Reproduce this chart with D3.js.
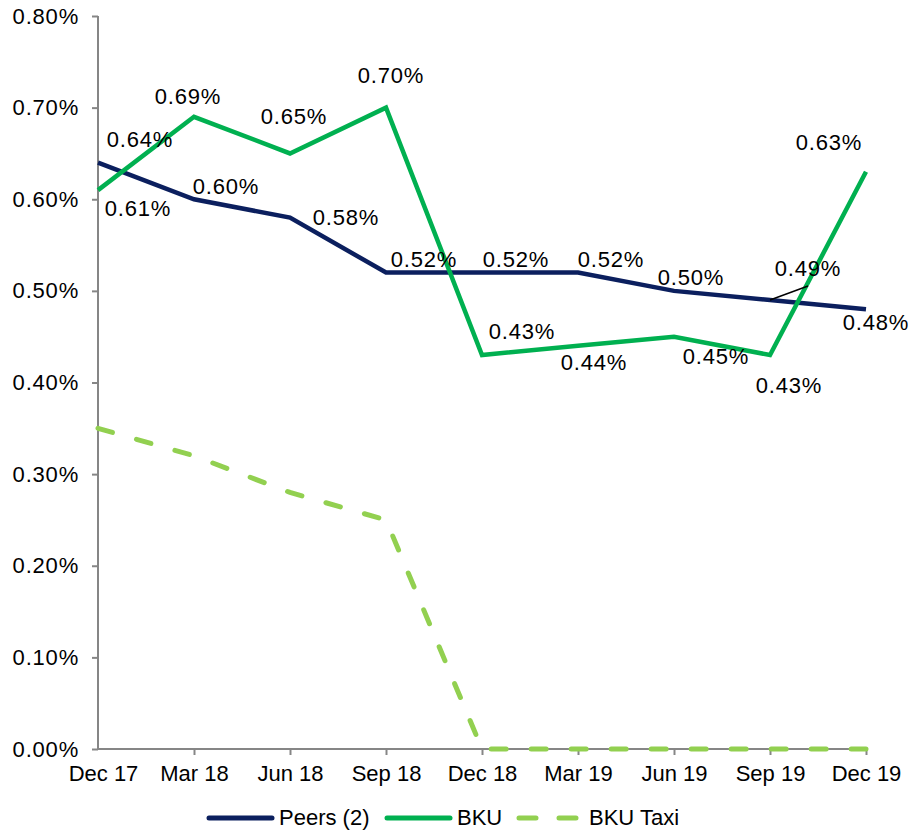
<!DOCTYPE html>
<html>
<head>
<meta charset="utf-8">
<script src="https://cdn.jsdelivr.net/npm/d3@7"></script>
<style>
body { margin: 0; background: #fff; }
svg text { font-family: "Liberation Sans", Arial, sans-serif; fill: #000; }
</style>
</head>
<body>
<div id="vis"></div>
<script>
var categories = ['Dec 17', 'Mar 18', 'Jun 18', 'Sep 18', 'Dec 18', 'Mar 19', 'Jun 19', 'Sep 19', 'Dec 19'];
var peers = [0.64, 0.60, 0.58, 0.52, 0.52, 0.52, 0.50, 0.49, 0.48];
var bku = [0.61, 0.69, 0.65, 0.70, 0.43, 0.44, 0.45, 0.43, 0.63];
var bkuTaxi = [0.35, 0.32, 0.28, 0.25, 0, 0, 0, 0, 0];
var yTicks = [0, 0.1, 0.2, 0.3, 0.4, 0.5, 0.6, 0.7, 0.8];

// label offsets (px) from each point, hand placed like the original
var peersLabelOffset = [[42, -23], [32, -13], [56, 0], [38, -13], [34, -13], [33, -13], [17, -14], [38, -32], [10, 13]];
var bkuLabelOffset = [[40, 18], [-6, -20], [4, -37], [5, -32], [40, -24], [16, 16], [42, 20], [19, 30], [-37, -29]];

var margin = { left: 98, right: 46, top: 16, bottom: 81 };
var width = 912 - margin.left - margin.right;
var height = 830 - margin.top - margin.bottom;

var svg = d3.select('#vis')
    .append('svg')
    .attr('width', 912)
    .attr('height', 830);

var g = svg.append('g')
    .attr('transform', 'translate(' + margin.left + ',' + margin.top + ')');

var xScale = d3.scalePoint().domain(categories).range([0, width]);
var yScale = d3.scaleLinear().domain([0, 0.8]).range([height, 0]);

var fontSize = 22;
var pctSpacing = '0.8px';

// axes
var yAxis = d3.axisLeft(yScale)
    .tickValues(yTicks)
    .tickSize(6)
    .tickPadding(13)
    .tickFormat(function(d) { return d.toFixed(2) + '%'; });

var xAxis = d3.axisBottom(xScale)
    .tickSize(6)
    .tickPadding(10);

var yg = g.append('g').call(yAxis);
var xg = g.append('g').attr('transform', 'translate(0,' + height + ')').call(xAxis);

[yg, xg].forEach(function(a) {
    a.select('.domain').attr('stroke', '#868686').attr('stroke-width', 2);
    a.selectAll('.tick line').attr('stroke', '#868686').attr('stroke-width', 2);
    a.selectAll('.tick text')
        .style('font-family', '"Liberation Sans", Arial, sans-serif')
        .style('font-size', fontSize + 'px')
        .attr('fill', '#000');
});
yg.selectAll('.tick text').style('letter-spacing', pctSpacing);
yg.select('.domain').attr('d', 'M0,' + height + 'V0');
xg.select('.domain').attr('d', 'M0,0H' + width);
var firstTick = xg.selectAll('.tick').filter(function(d, i) { return i === 0; });
firstTick.select('line').remove();
firstTick.select('text').attr('dx', 5);

var line = d3.line()
    .x(function(d, i) { return xScale(categories[i]); })
    .y(function(d) { return yScale(d); });

g.append('path').datum(bkuTaxi)
    .attr('d', line)
    .attr('fill', 'none')
    .attr('stroke', '#92d050')
    .attr('stroke-width', 5)
    .attr('stroke-linecap', 'round')
    .attr('stroke-dasharray', '15,25');

g.append('path').datum(peers)
    .attr('d', line)
    .attr('fill', 'none')
    .attr('stroke', '#0b1f5e')
    .attr('stroke-width', 4.5);

g.append('path').datum(bku)
    .attr('d', line)
    .attr('fill', 'none')
    .attr('stroke', '#00b050')
    .attr('stroke-width', 4.5);

// leader line for 0.49%
g.append('line')
    .attr('x1', xScale(categories[7]))
    .attr('y1', yScale(peers[7]))
    .attr('x2', xScale(categories[7]) + 38)
    .attr('y2', yScale(peers[7]) - 14)
    .attr('stroke', '#000')
    .attr('stroke-width', 1.5);

var addLabels = function(values, offsets) {
    g.append('g').selectAll('text')
        .data(values)
        .enter().append('text')
        .attr('x', function(d, i) { return xScale(categories[i]) + offsets[i][0]; })
        .attr('y', function(d, i) { return yScale(d) + offsets[i][1]; })
        .attr('dy', '0.35em')
        .attr('text-anchor', 'middle')
        .style('font-size', fontSize + 'px')
        .style('letter-spacing', pctSpacing)
        .text(function(d) { return d.toFixed(2) + '%'; });
};

addLabels(peers, peersLabelOffset);
addLabels(bku, bkuLabelOffset);

// legend
var legend = [
    { name: 'Peers (2)', color: '#0b1f5e', dash: null, x: 209 },
    { name: 'BKU', color: '#00b050', dash: null, x: 387 },
    { name: 'BKU Taxi', color: '#92d050', dash: '17,23', x: 519 }
];
var lg = svg.append('g').attr('transform', 'translate(0,818)');
legend.forEach(function(l) {
    lg.append('line')
        .attr('x1', l.x).attr('x2', l.x + 63)
        .attr('y1', 0).attr('y2', 0)
        .attr('stroke', l.color)
        .attr('stroke-width', 5)
        .attr('stroke-linecap', 'round')
        .attr('stroke-dasharray', l.dash);
    lg.append('text')
        .attr('x', l.x + 70)
        .attr('y', 7)
        .style('font-size', fontSize + 'px')
        .text(l.name);
});
</script>
</body>
</html>
